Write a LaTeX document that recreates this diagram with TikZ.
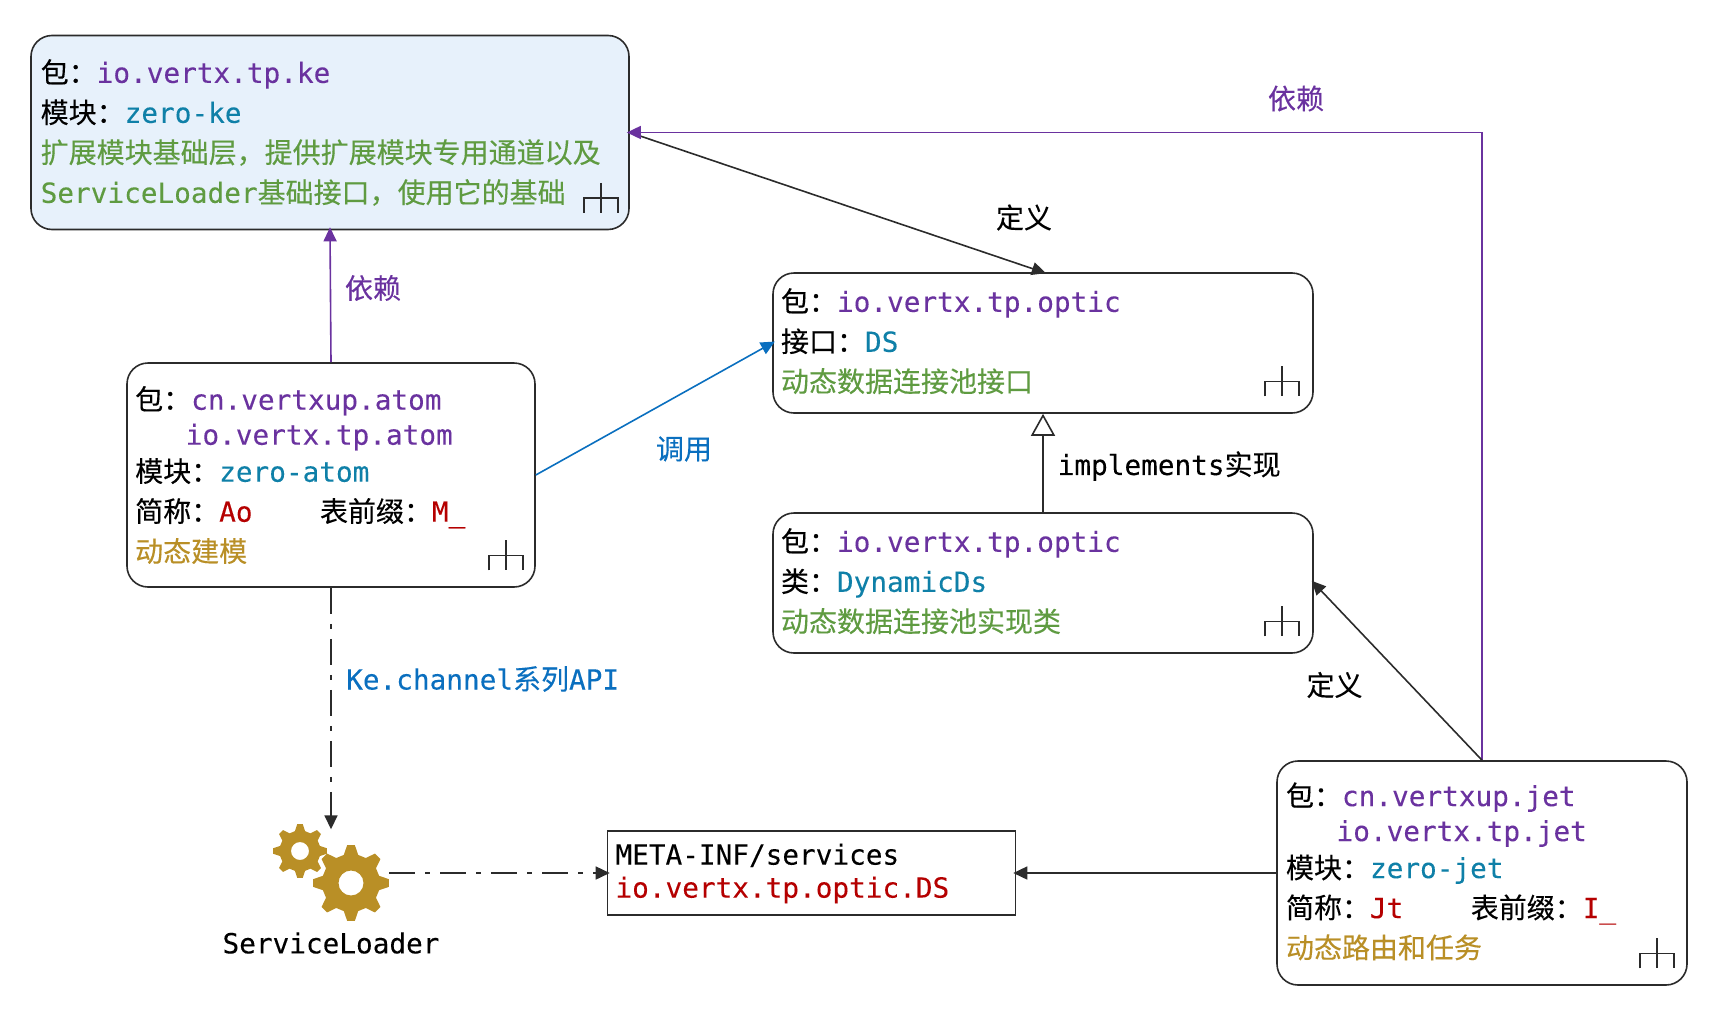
\documentclass[tikz,border=0pt]{standalone}
\usepackage{fontspec}
\setmainfont{DejaVu Sans Mono}[FakeBold=0.12,Scale=0.99]
\newfontfamily\cjkfont{Noto Sans CJK SC}[FakeBold=0.2]
\usetikzlibrary{arrows.meta,calc}
\definecolor{cpurple}{HTML}{6A329F}
\definecolor{cteal}{HTML}{0F80A8}
\definecolor{cblue}{HTML}{0A6FBF}
\definecolor{cgreen}{HTML}{5F9B41}
\definecolor{cred}{HTML}{B50000}
\definecolor{cgold}{HTML}{B98F26}
\definecolor{cfill}{HTML}{E7F1FB}
\definecolor{cline}{HTML}{2B2B2B}
\newcommand{\zh}[1]{{\cjkfont #1}}
\newcommand{\pk}[1]{\textcolor{cpurple}{#1}}
\newcommand{\md}[1]{\textcolor{cteal}{#1}}
\newcommand{\gn}[1]{\textcolor{cgreen}{#1}}
\newcommand{\rd}[1]{\textcolor{cred}{#1}}
\newcommand{\gd}[1]{\textcolor{cgold}{#1}}
\newcommand{\mgap}[1]{\hspace*{#1\dimexpr 16.85pt\relax}}
\newcommand{\forkmark}[2]{%
  \begin{scope}[shift={($(#1.south east)+(#2,-1.5)$)}]
  \draw[forkline] (-29,-46) -- (-29,-16) (-46,-16) -- (-46,-31) -- (-12,-31) -- (-12,-16);
  \end{scope}}
\newcommand{\gearat}[7]{% cx cy router rinner hole teeth rot
  \pgfmathsetmacro{\gstep}{360/#6}%
  \fill[cgold,even odd rule] ([shift={(#1,#2)}]#7+0.32*\gstep:#4)
    \foreach \gi [evaluate=\gi as \ga using #7+\gi*\gstep] in {1,...,#6}{
      -- ([shift={(#1,#2)}]\ga-0.32*\gstep:#4) -- ([shift={(#1,#2)}]\ga-0.13*\gstep:#3)
      -- ([shift={(#1,#2)}]\ga+0.13*\gstep:#3) -- ([shift={(#1,#2)}]\ga+0.32*\gstep:#4)
    } -- cycle
    (#1,#2) circle[radius=#5];}
\tikzset{
  txt/.style={font=\fontsize{28}{40}\selectfont,inner sep=0pt},
  ubox/.style={draw=cline,line width=1.6pt,rounded corners=21pt,align=left,inner xsep=9pt,inner ysep=0pt,
    font=\fontsize{28}{40}\selectfont,fill=white},
  metabox/.style={draw=cline,line width=1.6pt,align=left,inner xsep=8pt,inner ysep=0pt,
    font=\fontsize{28}{33}\selectfont,fill=white},
  forkline/.style={draw=cline,line width=1.4pt},
  tipped/.style={line width=1.6pt,shorten >=-3pt},
  conn/.style={tipped,draw=cline,-{Triangle[length=14pt,width=13pt,fill=cline]}},
  dep/.style={tipped,draw=cpurple,-{Triangle[length=14pt,width=13pt,fill=cpurple]}},
  calls/.style={tipped,draw=cblue,-{Triangle[length=14pt,width=13pt,fill=cblue]}},
  impl/.style={line width=1.6pt,draw=cline,-{Triangle[open,length=22pt,width=24pt,fill=white]}},
  dashdot/.style={conn,dash pattern=on 26pt off 10pt on 5pt off 10pt},
}
\begin{document}
\begin{tikzpicture}[x=1pt,y=-1pt]
\useasboundingbox (0,0) rectangle (1712,1020);
\node[ubox,fill=cfill,inner xsep=9.7pt,text width=578.6pt,minimum height=194pt] (ke) at (330,132.5) {%
\zh{包：}\pk{io.vertx.tp.ke}\\
\zh{模块：}\md{zero-ke}\\
\gn{\zh{扩展模块基础层，提供扩展模块专用通道以及}}\\
\gn{ServiceLoader\zh{基础接口，使用它的基础}}};
\node[ubox,inner xsep=8.2pt,text width=391.6pt,minimum height=224pt] (atom) at (331,475) {%
\zh{包：}\pk{cn.vertxup.atom}\\[-5pt]
\mgap{3}\pk{io.vertx.tp.atom}\\[-3pt]
\zh{模块：}\md{zero-atom}\\
\zh{简称：}\rd{Ao}\mgap{4}\zh{表前缀：}\rd{M\symbol{95}}\\
\gd{\zh{动态建模}}};
\node[ubox,inner xsep=8pt,text width=524pt,minimum height=140pt] (optic) at (1043,343) {%
\zh{包：}\pk{io.vertx.tp.optic}\\
\zh{接口：}\md{DS}\\
\gn{\zh{动态数据连接池接口}}\rule[-6pt]{0pt}{6pt}};
\node[ubox,inner xsep=8pt,text width=524pt,minimum height=140pt] (dyn) at (1043,583) {%
\zh{包：}\pk{io.vertx.tp.optic}\\
\zh{类：}\md{DynamicDs}\\
\gn{\zh{动态数据连接池实现类}}\rule[-6pt]{0pt}{6pt}};
\node[ubox,text width=392pt,minimum height=224pt] (jet) at (1482,873) {%
\zh{包：}\pk{cn.vertxup.jet}\\[-5pt]
\mgap{3}\pk{io.vertx.tp.jet}\\[-3pt]
\zh{模块：}\md{zero-jet}\\
\zh{简称：}\rd{Jt}\mgap{4}\zh{表前缀：}\rd{I\symbol{95}}\\
\gd{\zh{动态路由和任务}}\rule[-5.5pt]{0pt}{5.5pt}};
\node[metabox,text width=392pt,minimum height=84pt] (meta) at (811.5,873) {%
\rule{0pt}{22pt}META-INF/services\\
\rd{io.vertx.tp.optic.DS}};
\node[minimum width=116pt,minimum height=93pt,inner sep=0pt] (gears) at (331,873) {};
\gearat{300}{851}{27}{20.5}{9}{8}{0}
\gearat{351}{883}{38}{29}{12.5}{8}{0}
\node[txt] (sl) at (331,943) {ServiceLoader};
\forkmark{ke}{0}\forkmark{atom}{-1}\forkmark{optic}{-3}\forkmark{dyn}{-3}\forkmark{jet}{-2}
% connectors
\draw[conn] (ke.east) -- (optic.north);
\draw[dep] (atom.north) -- (ke.south);
\draw[dep] (jet.north) |- (ke.east);
\draw[calls] (atom.east) -- (optic.west);
\draw[impl] (dyn.north) -- (optic.south);
\draw[conn] (jet.north) -- (dyn.east);
\draw[conn] (jet.west) -- (meta.east);
\draw[dashdot] (atom.south) -- (gears.north);
\draw[dashdot] (gears.east) -- (meta.west);
% labels
\node[txt,text=cpurple] (l1) at (373,288) {\zh{依赖}};
\node[txt,text=cpurple] (l2) at (1296,98.5) {\zh{依赖}};
\node[txt] (l3) at (1024,217.5) {\zh{定义}};
\node[txt] (l4) at (1334.5,685) {\zh{定义}};
\node[txt,text=cblue] (l5) at (684,449) {\zh{调用}};
\node[txt,anchor=west] (l6) at (1057.5,466) {implements\zh{实现}};
\node[txt,anchor=west,text=cblue] (l7) at (346,679) {Ke.channel\zh{系列}API};
\end{tikzpicture}
\end{document}
